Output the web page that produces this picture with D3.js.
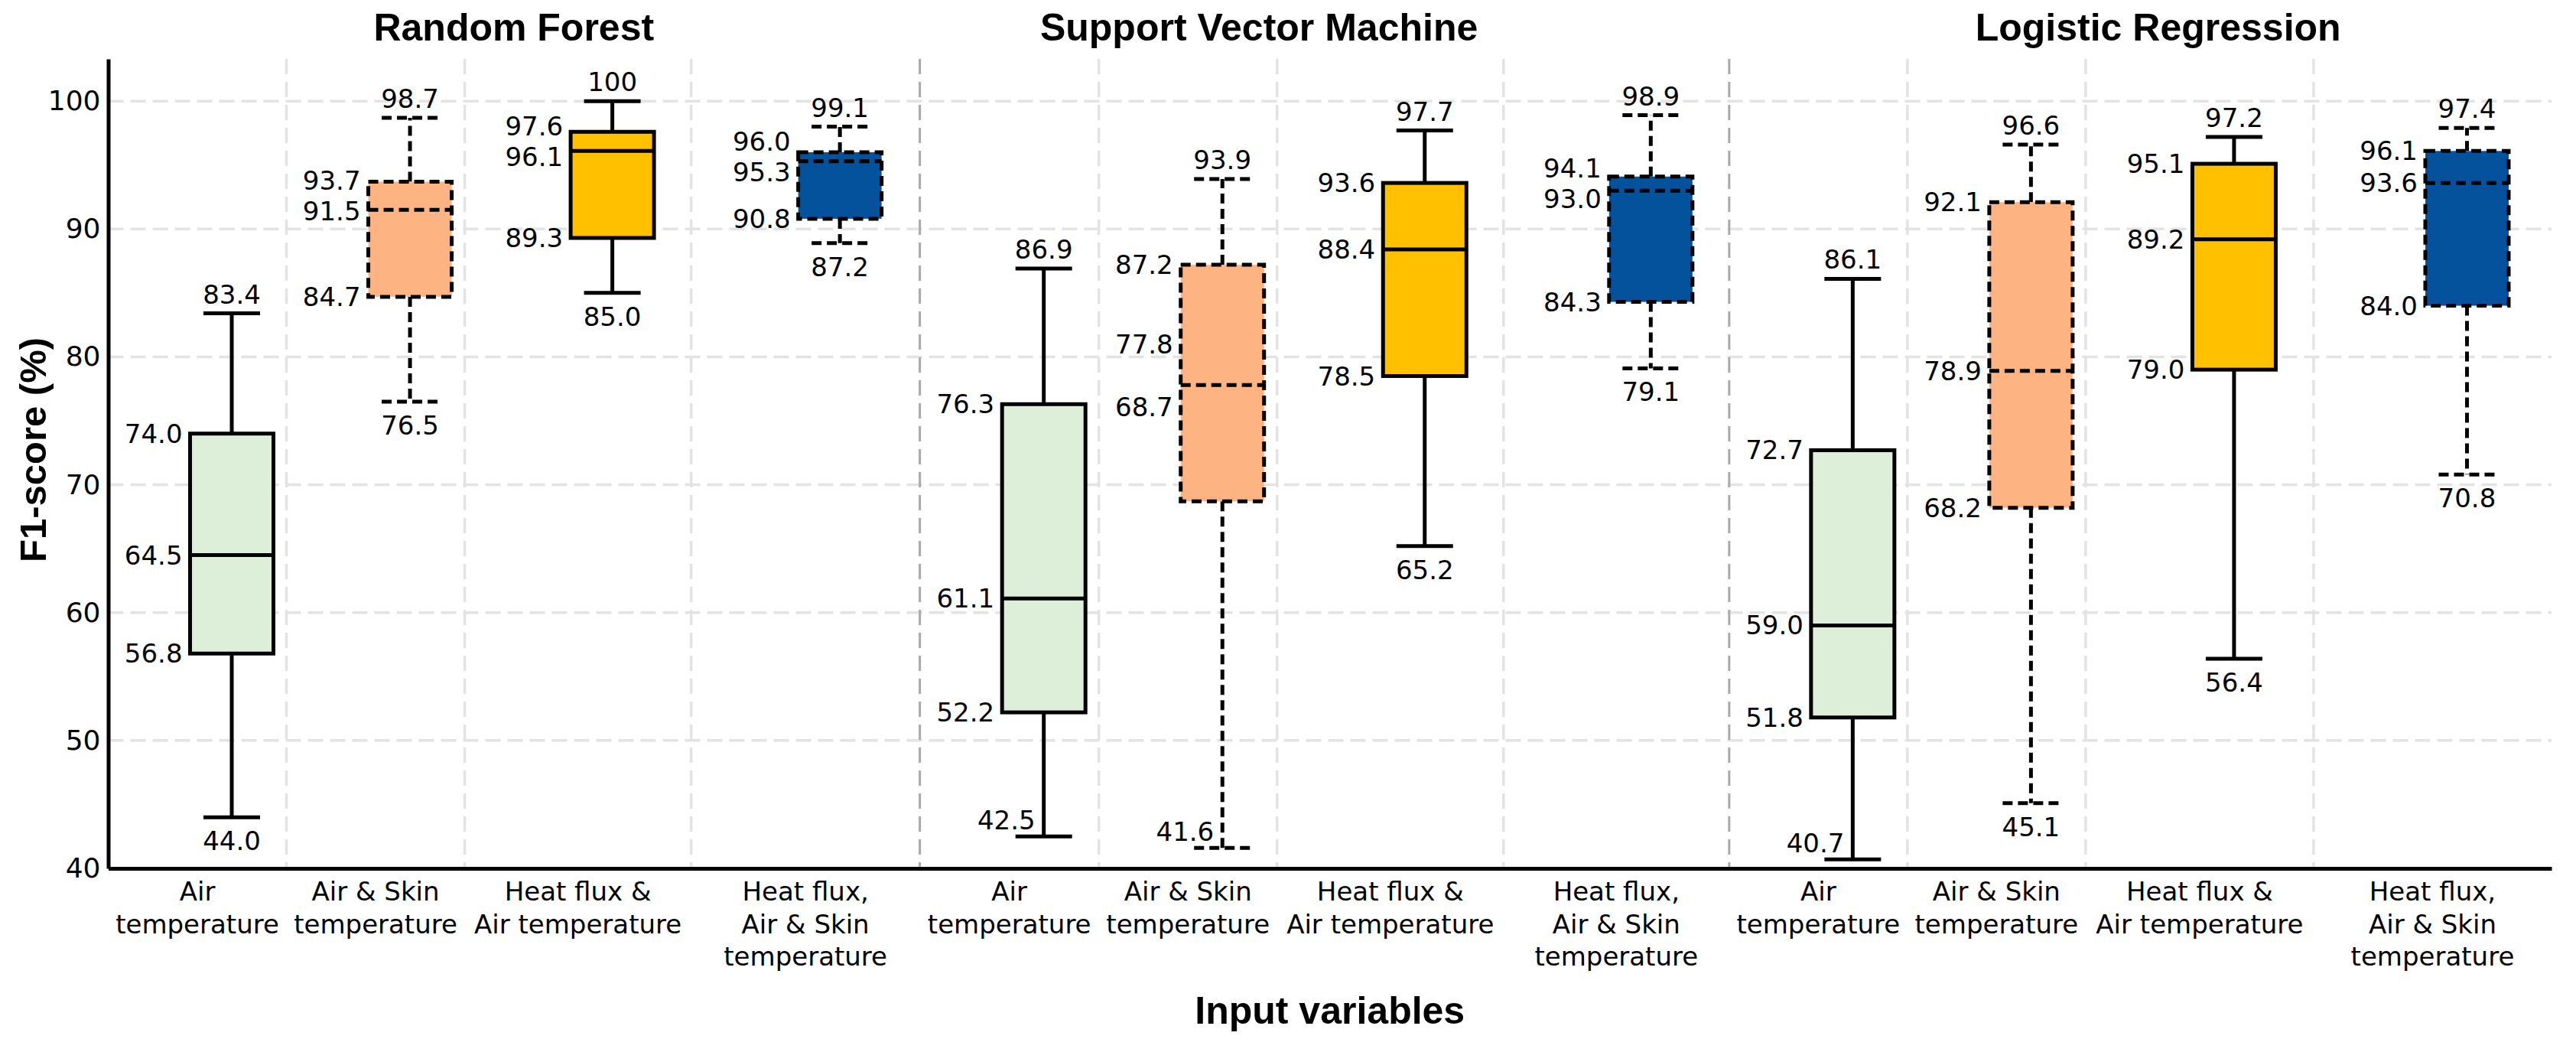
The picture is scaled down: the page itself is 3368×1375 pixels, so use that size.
<!DOCTYPE html>
<html>
<head>
<meta charset="utf-8">
<script src="https://cdn.jsdelivr.net/npm/d3@7"></script>
<style>
  body { margin: 0; background: #fff; }
  svg { display: block; }
</style>
</head>
<body>
<div id="chart"></div>
<script>
// models (panels) and input variable sets
const models = ['Random Forest', 'Support Vector Machine', 'Logistic Regression'];
const inputs = ['Air temperature', 'Air & Skin temperature', 'Heat flux & Air temperature', 'Heat flux, Air & Skin temperature'];
const inputLines = [['Air', 'temperature'], ['Air & Skin', 'temperature'], ['Heat flux &', 'Air temperature'], ['Heat flux,', 'Air & Skin', 'temperature']];

// box statistics, one row per model, one column per input set (F1-score %)
const whiskerLow  = [[44.0, 76.5, 85.0, 88.9], [42.5, 41.6, 65.2, 79.1], [40.7, 45.1, 56.4, 70.8]];
const q1          = [[56.8, 84.7, 89.3, 90.8], [52.2, 68.7, 78.5, 84.3], [51.8, 68.2, 79.0, 84.0]];
const median      = [[64.5, 91.5, 96.1, 95.3], [61.1, 77.8, 88.4, 93.0], [59.0, 78.9, 89.2, 93.6]];
const q3          = [[74.0, 93.7, 97.6, 96.0], [76.3, 87.2, 93.6, 94.1], [72.7, 92.1, 95.1, 96.1]];
const whiskerHigh = [[83.4, 98.7, 100, 98.0], [86.9, 93.9, 97.7, 98.9], [86.1, 96.6, 97.2, 97.9]];
// annotated min / max
const minLabel = [[44.0, 76.5, 85.0, 87.2], [42.5, 41.6, 65.2, 79.1], [40.7, 45.1, 56.4, 70.8]];
const maxLabel = [[83.4, 98.7, 100, 99.1], [86.9, 93.9, 97.7, 98.9], [86.1, 96.6, 97.2, 97.4]];

const yTicks = [40, 50, 60, 70, 80, 90, 100];

// ---- layout / style ----
const W = 3368, H = 1375;
const plotL = 141.5, plotR = 3336, plotT = 77, plotB = 1135;
const slotWidths = [233, 233, 296, 299, 234, 233, 296, 295, 233, 233, 298, 311];
const titlePos = [0.166, 0.471, 0.839];
const fills = ['#ddefd9', '#fdb382', '#ffc000', '#03529b'];
const dashed = [false, true, false, true];
const labelNudge = { '1|1|med': 3.2, '1|1|q1': 7.4 }; // label shifts (value units) as in the source figure
const boxW = 109, capW = 74, boxShift = 45;
const valFont = 'DejaVu Sans';
const boldFont = '"Liberation Sans", Arial, sans-serif';

const svg = d3.select('#chart').append('svg')
    .attr('width', W)
    .attr('height', H);
svg.append('rect').attr('width', W).attr('height', H).attr('fill', '#fff');

const y = d3.scaleLinear().domain([40, 103.3]).range([plotB, plotT]);
const cum = d3.cumsum(slotWidths);
const total = cum[cum.length - 1];
const xs = d3.scaleLinear().domain([0, total]).range([plotL, plotR]);
const slotStart = i => xs(cum[i] - slotWidths[i]);
const slotEnd = i => xs(cum[i]);
const slotMid = i => (slotStart(i) + slotEnd(i)) / 2;

// gridlines
const grid = svg.append('g');
grid.selectAll('.hgrid')
    .data(yTicks.filter(d => d > 40))
    .enter()
    .append('line')
        .attr('x1', plotL).attr('x2', plotR)
        .attr('y1', d => y(d)).attr('y2', d => y(d))
        .attr('stroke', '#e3e3e3')
        .attr('stroke-width', 3.5)
        .attr('stroke-dasharray', '20,9');
grid.selectAll('.vgrid')
    .data(d3.range(1, slotWidths.length))
    .enter()
    .append('line')
        .attr('x1', i => slotStart(i)).attr('x2', i => slotStart(i))
        .attr('y1', plotT).attr('y2', plotB)
        .attr('stroke', i => i % 4 == 0 ? '#a9a9a9' : '#e3e3e3')
        .attr('stroke-width', i => i % 4 == 0 ? 3 : 3.5)
        .attr('stroke-dasharray', '20,10');

// axes
const yAxis = svg.append('g')
    .attr('transform', `translate(${plotL},0)`)
    .call(d3.axisLeft(y).tickValues(yTicks).tickSize(0).tickSizeOuter(0).tickPadding(10));
yAxis.select('.domain').attr('stroke', '#000').attr('stroke-width', 5);
yAxis.selectAll('text')
    .attr('font-family', valFont)
    .attr('font-size', 36)
    .attr('fill', '#000');

const xAxis = svg.append('g')
    .attr('transform', `translate(0,${plotB})`)
    .call(d3.axisBottom(xs).tickValues([]).tickSizeOuter(0));
xAxis.select('.domain').attr('stroke', '#000').attr('stroke-width', 5);

// category labels
const cats = d3.range(12).map(i => ({ i: i, m: Math.floor(i / 4), c: i % 4 }));
const catText = svg.selectAll('.cat')
    .data(cats)
    .enter()
    .append('text')
        .attr('class', 'cat')
        .attr('font-family', valFont)
        .attr('font-size', 34)
        .attr('text-anchor', 'middle');
catText.selectAll('tspan')
    .data(d => inputLines[d.c].map((t, k) => ({ t: t, k: k, x: slotMid(d.i) })))
    .enter()
    .append('tspan')
        .attr('x', d => d.x)
        .attr('y', d => 1177 + d.k * 42.5)
        .text(d => d.t);

// panel titles
svg.selectAll('.title')
    .data(models)
    .enter()
    .append('text')
        .attr('x', (d, i) => plotL + titlePos[i] * (plotR - plotL))
        .attr('y', 53)
        .attr('text-anchor', 'middle')
        .attr('font-family', boldFont)
        .attr('font-weight', 'bold')
        .attr('font-size', 50)
        .text(d => d);

// axis titles
svg.append('text')
    .attr('x', (plotL + plotR) / 2)
    .attr('y', 1338)
    .attr('text-anchor', 'middle')
    .attr('font-family', boldFont)
    .attr('font-weight', 'bold')
    .attr('font-size', 50)
    .text('Input variables');
svg.append('text')
    .attr('transform', 'translate(60,588) rotate(-90)')
    .attr('text-anchor', 'middle')
    .attr('font-family', boldFont)
    .attr('font-weight', 'bold')
    .attr('font-size', 49)
    .text('F1-score (%)');

// boxes
const fmt = v => v == 100 ? '100' : v.toFixed(1);
const boxes = svg.append('g');
cats.forEach(d => {
    const m = d.m, c = d.c;
    const cx = slotMid(d.i) + boxShift;
    const dash = dashed[c] ? '13,7' : null;
    const g = boxes.append('g');
    const line = (x1, y1, x2, y2) => g.append('line')
        .attr('x1', x1).attr('y1', y1).attr('x2', x2).attr('y2', y2)
        .attr('stroke', '#000')
        .attr('stroke-width', 5)
        .attr('stroke-dasharray', dash);

    // whiskers + caps
    line(cx, y(q1[m][c]), cx, y(whiskerLow[m][c]));
    line(cx, y(q3[m][c]), cx, y(whiskerHigh[m][c]));
    line(cx - capW / 2, y(whiskerLow[m][c]), cx + capW / 2, y(whiskerLow[m][c]));
    line(cx - capW / 2, y(whiskerHigh[m][c]), cx + capW / 2, y(whiskerHigh[m][c]));

    g.append('rect')
        .attr('x', cx - boxW / 2)
        .attr('y', y(q3[m][c]))
        .attr('width', boxW)
        .attr('height', y(q1[m][c]) - y(q3[m][c]))
        .attr('fill', fills[c])
        .attr('stroke', '#000')
        .attr('stroke-width', 5)
        .attr('stroke-dasharray', dash);
    line(cx - boxW / 2, y(median[m][c]), cx + boxW / 2, y(median[m][c]));

    // box value labels, pushed apart when too close
    const labs = [['q3', q3[m][c]], ['med', median[m][c]], ['q1', q1[m][c]]].map(([k, v]) => ({
        v: v,
        py: y(v + (labelNudge[m + '|' + c + '|' + k] || 0))
    }));
    for (let it = 0; it < 10; it++) {
        for (let k = 0; k < labs.length - 1; k++) {
            const gap = labs[k + 1].py - labs[k].py;
            if (gap < 40) {
                labs[k].py -= (40 - gap) / 2;
                labs[k + 1].py += (40 - gap) / 2;
            }
        }
    }
    g.selectAll('.blab')
        .data(labs)
        .enter()
        .append('text')
            .attr('x', cx - boxW / 2 - 10)
            .attr('y', l => l.py + 12)
            .attr('text-anchor', 'end')
            .attr('font-family', valFont)
            .attr('font-size', 34)
            .text(l => fmt(l.v));

    // max label above cap
    g.append('text')
        .attr('x', cx)
        .attr('y', y(whiskerHigh[m][c]) - 13)
        .attr('text-anchor', 'middle')
        .attr('font-family', valFont)
        .attr('font-size', 34)
        .text(fmt(maxLabel[m][c]));

    // min label below cap, or beside it near the axis
    const low = whiskerLow[m][c] < 43;
    g.append('text')
        .attr('x', low ? cx - 11 : cx)
        .attr('y', y(whiskerLow[m][c]) + (low ? -9 : 43))
        .attr('text-anchor', low ? 'end' : 'middle')
        .attr('font-family', valFont)
        .attr('font-size', 34)
        .text(fmt(minLabel[m][c]));
});
</script>
</body>
</html>
